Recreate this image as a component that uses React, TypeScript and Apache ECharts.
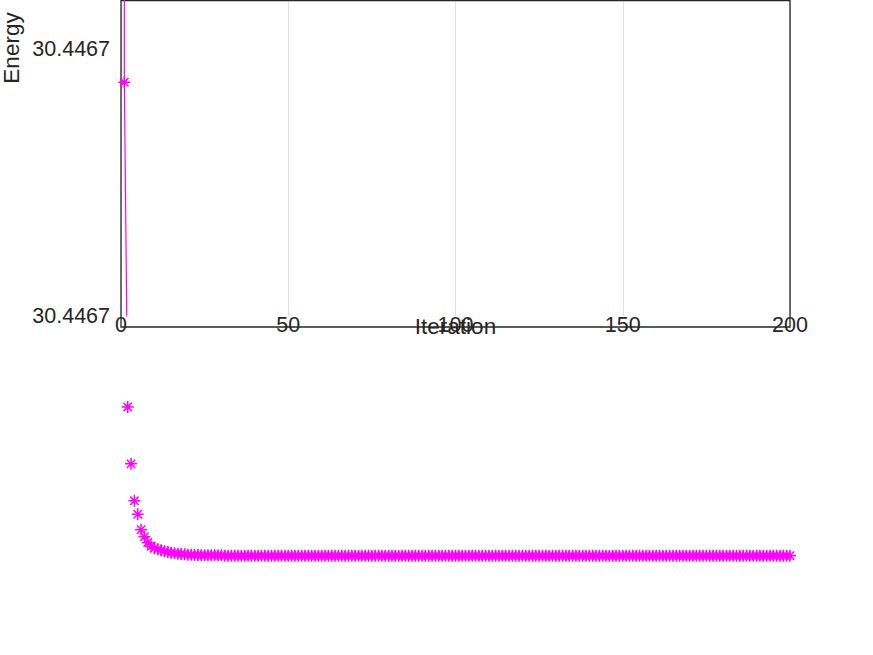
import React, { useEffect, useRef } from "react";
import * as echarts from "echarts";

// Iteration numbers 0..200
const iterations: number[] = [
  0, 1, 2, 3, 4, 5, 6, 7, 8, 9,
  10, 11, 12, 13, 14, 15, 16, 17, 18, 19,
  20, 21, 22, 23, 24, 25, 26, 27, 28, 29,
  30, 31, 32, 33, 34, 35, 36, 37, 38, 39,
  40, 41, 42, 43, 44, 45, 46, 47, 48, 49,
  50, 51, 52, 53, 54, 55, 56, 57, 58, 59,
  60, 61, 62, 63, 64, 65, 66, 67, 68, 69,
  70, 71, 72, 73, 74, 75, 76, 77, 78, 79,
  80, 81, 82, 83, 84, 85, 86, 87, 88, 89,
  90, 91, 92, 93, 94, 95, 96, 97, 98, 99,
  100, 101, 102, 103, 104, 105, 106, 107, 108, 109,
  110, 111, 112, 113, 114, 115, 116, 117, 118, 119,
  120, 121, 122, 123, 124, 125, 126, 127, 128, 129,
  130, 131, 132, 133, 134, 135, 136, 137, 138, 139,
  140, 141, 142, 143, 144, 145, 146, 147, 148, 149,
  150, 151, 152, 153, 154, 155, 156, 157, 158, 159,
  160, 161, 162, 163, 164, 165, 166, 167, 168, 169,
  170, 171, 172, 173, 174, 175, 176, 177, 178, 179,
  180, 181, 182, 183, 184, 185, 186, 187, 188, 189,
  190, 191, 192, 193, 194, 195, 196, 197, 198, 199,
  200,
];

// Energy per iteration (iteration 0 lies far above the visible range)
const energy: number[] = [
  30.4485, 30.44669753, 30.44667318, 30.44666891, 30.44666614, 30.44666513, 30.44666397, 30.44666345, 30.446663, 30.44666273,
  30.44666258, 30.44666251, 30.44666243, 30.44666236, 30.4466623, 30.44666225, 30.44666221, 30.44666217, 30.44666215, 30.44666213,
  30.4466621, 30.44666209, 30.44666207, 30.44666207, 30.44666206, 30.44666205, 30.44666205, 30.44666205, 30.44666205, 30.44666205,
  30.44666205, 30.44666202, 30.44666202, 30.44666202, 30.44666202, 30.44666202, 30.44666202, 30.44666202, 30.44666202, 30.44666202,
  30.44666202, 30.44666202, 30.44666202, 30.44666202, 30.44666202, 30.44666202, 30.44666202, 30.44666202, 30.44666202, 30.44666202,
  30.44666202, 30.44666202, 30.44666202, 30.44666202, 30.44666202, 30.44666202, 30.44666202, 30.44666202, 30.44666202, 30.44666202,
  30.44666202, 30.44666202, 30.44666202, 30.44666202, 30.44666202, 30.44666202, 30.44666202, 30.44666202, 30.44666202, 30.44666202,
  30.44666202, 30.44666202, 30.44666202, 30.44666202, 30.44666202, 30.44666202, 30.44666202, 30.44666202, 30.44666202, 30.44666202,
  30.44666202, 30.44666202, 30.44666202, 30.44666202, 30.44666202, 30.44666202, 30.44666202, 30.44666202, 30.44666202, 30.44666202,
  30.44666202, 30.44666202, 30.44666202, 30.44666202, 30.44666202, 30.44666202, 30.44666202, 30.44666202, 30.44666202, 30.44666202,
  30.44666202, 30.44666202, 30.44666202, 30.44666202, 30.44666202, 30.44666202, 30.44666202, 30.44666202, 30.44666202, 30.44666202,
  30.44666202, 30.44666202, 30.44666202, 30.44666202, 30.44666202, 30.44666202, 30.44666202, 30.44666202, 30.44666202, 30.44666202,
  30.44666202, 30.44666202, 30.44666202, 30.44666202, 30.44666202, 30.44666202, 30.44666202, 30.44666202, 30.44666202, 30.44666202,
  30.44666202, 30.44666202, 30.44666202, 30.44666202, 30.44666202, 30.44666202, 30.44666202, 30.44666202, 30.44666202, 30.44666202,
  30.44666202, 30.44666202, 30.44666202, 30.44666202, 30.44666202, 30.44666202, 30.44666202, 30.44666202, 30.44666202, 30.44666202,
  30.44666202, 30.44666202, 30.44666202, 30.44666202, 30.44666202, 30.44666202, 30.44666202, 30.44666202, 30.44666202, 30.44666202,
  30.44666202, 30.44666202, 30.44666202, 30.44666202, 30.44666202, 30.44666202, 30.44666202, 30.44666202, 30.44666202, 30.44666202,
  30.44666202, 30.44666202, 30.44666202, 30.44666202, 30.44666202, 30.44666202, 30.44666202, 30.44666202, 30.44666202, 30.44666202,
  30.44666202, 30.44666202, 30.44666202, 30.44666202, 30.44666202, 30.44666202, 30.44666202, 30.44666202, 30.44666202, 30.44666202,
  30.44666202, 30.44666202, 30.44666202, 30.44666202, 30.44666202, 30.44666202, 30.44666202, 30.44666202, 30.44666202, 30.44666202,
  30.44666202,
];

const xTickInterval = 50;
const xRange: number[] = [0, 200];
const yRange: number[] = [30.44668, 30.4467037];
const yTickValues: number[] = [30.44668, 30.4467];

const FONT = "'Liberation Sans', Arial, Helvetica, sans-serif";
const TEXT = "#262626";
const MAGENTA = "#ff00ff";

export default function App() {
  const ref = useRef<HTMLDivElement>(null);

  useEffect(() => {
    if (!ref.current) return;
    const chart = echarts.init(ref.current, undefined, { renderer: "svg" });
    const points = iterations.map((it, i) => [it, energy[i]]);

    chart.setOption({
      animation: false,
      backgroundColor: "#ffffff",
      grid: {
        left: 121,
        top: 0,
        width: 669,
        height: 316,
        containLabel: false,
        outerBoundsMode: "none",
      },
      xAxis: {
        type: "value",
        min: xRange[0],
        max: xRange[1],
        interval: xTickInterval,
        offset: 11,
        axisLine: { show: false },
        axisTick: { show: false },
        axisLabel: {
          margin: -13,
          fontSize: 21.5,
          color: TEXT,
          fontFamily: FONT,
          showMinLabel: true,
          showMaxLabel: true,
        },
        splitLine: { show: true, lineStyle: { color: "#dfdfdf", width: 1 } },
        name: "Iteration",
        nameLocation: "middle",
        nameGap: -12.5,
        nameMoveOverlap: false,
        nameTextStyle: { fontSize: 22.5, color: TEXT, fontFamily: FONT },
      },
      yAxis: {
        type: "value",
        min: yRange[0],
        max: yRange[1],
        scale: true,
        axisLine: { show: false },
        axisTick: { show: false },
        splitLine: { show: false },
        axisLabel: {
          customValues: yTickValues,
          margin: 11,
          fontSize: 21.5,
          color: TEXT,
          fontFamily: FONT,
          formatter: (v: number) => v.toFixed(4),
        },
      },
      graphic: [
        {
          type: "rect",
          z: 1,
          shape: { x: 121, y: 0.5, width: 669, height: 326.5 },
          style: { fill: "none", stroke: TEXT, lineWidth: 1.3 },
          silent: true,
        },
        {
          type: "text",
          x: 11,
          y: 48,
          rotation: Math.PI / 2,
          style: {
            text: "Energy",
            fontSize: 22.5,
            fontFamily: FONT,
            fill: TEXT,
            align: "center",
            verticalAlign: "middle",
          },
          silent: true,
        },
      ],
      series: [
        {
          type: "line",
          data: points,
          showSymbol: false,
          clip: true,
          lineStyle: { color: MAGENTA, width: 1.2 },
          z: 2,
        },
        {
          type: "scatter",
          data: points,
          clip: false,
          symbol: "path://M0 -10 L0 10 M-10 0 L10 0 M-7 -7 L7 7 M-7 7 L7 -7",
          symbolSize: 12,
          itemStyle: { color: "none", borderColor: MAGENTA, borderWidth: 1.5, opacity: 1 },
          z: 3,
        },
      ],
    });

    return () => chart.dispose();
  }, []);

  return (
    <div
      ref={ref}
      style={{ position: "fixed", left: 0, top: 0, width: 873, height: 655, background: "#fff" }}
    />
  );
}
